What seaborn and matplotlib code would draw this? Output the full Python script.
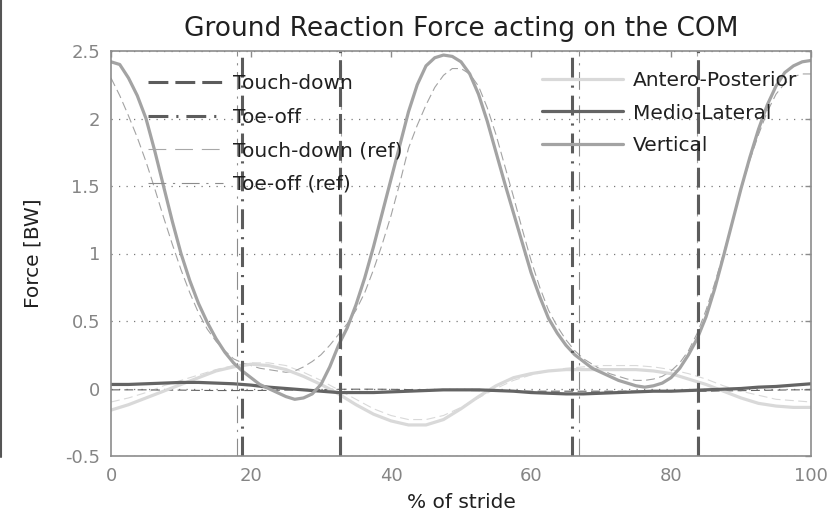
import numpy as np
import pandas as pd
import matplotlib
matplotlib.use("Agg")
import matplotlib.pyplot as plt
from matplotlib.lines import Line2D
import seaborn as sns

# Donnees (% de la foulee, force en BW)
stride_fine = np.arange(0, 100.01, 1.25)
stride = np.arange(0, 100.01, 2.5)

vertical = [2.42, 2.40, 2.30, 2.17, 2.00, 1.76, 1.50, 1.24, 1.00, 0.80,
            0.63, 0.49, 0.37, 0.27, 0.19, 0.13, 0.08, 0.03, 0.00, -0.03,
            -0.06, -0.08, -0.07, -0.04, 0.03, 0.16, 0.32, 0.45, 0.62, 0.82,
            1.05, 1.30, 1.55, 1.80, 2.05, 2.25, 2.39, 2.45, 2.47, 2.46,
            2.42, 2.33, 2.18, 1.98, 1.75, 1.52, 1.30, 1.08, 0.86, 0.68,
            0.52, 0.41, 0.32, 0.25, 0.20, 0.15, 0.12, 0.09, 0.06, 0.04,
            0.02, 0.01, 0.02, 0.04, 0.08, 0.15, 0.25, 0.37, 0.53, 0.74,
            0.98, 1.23, 1.48, 1.71, 1.92, 2.10, 2.24, 2.34, 2.39, 2.42, 2.43]
vertical_ref = [2.30, 2.17, 2.02, 1.86, 1.68, 1.48, 1.27, 1.07, 0.88, 0.71,
                0.56, 0.44, 0.35, 0.28, 0.22, 0.19, 0.17, 0.15, 0.14, 0.13,
                0.12, 0.13, 0.16, 0.20, 0.25, 0.32, 0.40, 0.48, 0.58, 0.71,
                0.88, 1.07, 1.28, 1.52, 1.78, 1.95, 2.10, 2.23, 2.32, 2.37,
                2.37, 2.33, 2.24, 2.08, 1.88, 1.65, 1.42, 1.18, 0.95, 0.75,
                0.58, 0.46, 0.36, 0.28, 0.22, 0.18, 0.14, 0.11, 0.09, 0.07,
                0.06, 0.06, 0.07, 0.09, 0.13, 0.19, 0.28, 0.41, 0.58, 0.78,
                1.00, 1.23, 1.47, 1.69, 1.88, 2.05, 2.18, 2.26, 2.31, 2.33, 2.33]
antero = [-0.16, -0.12, -0.07, -0.02, 0.03, 0.08, 0.13, 0.16, 0.18, 0.17,
          0.14, 0.09, 0.03, -0.04, -0.12, -0.19, -0.24, -0.27, -0.27, -0.23,
          -0.15, -0.06, 0.02, 0.08, 0.11, 0.13, 0.14, 0.14, 0.14, 0.14,
          0.14, 0.13, 0.11, 0.07, 0.03, -0.02, -0.07, -0.11, -0.13, -0.14, -0.14]
antero_ref = [-0.10, -0.07, -0.03, 0.02, 0.06, 0.10, 0.14, 0.17, 0.19, 0.19,
              0.17, 0.12, 0.06, -0.01, -0.08, -0.15, -0.20, -0.23, -0.23, -0.20,
              -0.14, -0.07, 0.00, 0.06, 0.10, 0.13, 0.15, 0.16, 0.17, 0.17,
              0.17, 0.16, 0.14, 0.11, 0.07, 0.02, -0.02, -0.05, -0.08, -0.09, -0.10]
medio = [0.03, 0.03, 0.035, 0.04, 0.045, 0.045, 0.04, 0.035, 0.025, 0.01,
         0.0, -0.01, -0.02, -0.03, -0.03, -0.03, -0.025, -0.02, -0.015, -0.01,
         -0.01, -0.01, -0.015, -0.02, -0.03, -0.035, -0.04, -0.04, -0.035, -0.03,
         -0.025, -0.02, -0.02, -0.015, -0.01, -0.005, 0.0, 0.01, 0.015, 0.025, 0.035]
medio_ref = [-0.01, -0.01, -0.01, -0.012, -0.012, -0.014, -0.015, -0.015, -0.015, -0.014,
             -0.012, -0.01, -0.008, -0.006, -0.005, -0.005, -0.006, -0.008, -0.01, -0.012,
             -0.014, -0.016, -0.018, -0.02, -0.02, -0.02, -0.02, -0.02, -0.02, -0.02,
             -0.02, -0.02, -0.02, -0.02, -0.02, -0.018, -0.016, -0.014, -0.012, -0.01, -0.01]

touch_down = [32.7, 83.8]
toe_off = [18.7, 65.8]
touch_down_ref = [32.8, 83.7]
toe_off_ref = [18.0, 66.8]

df_v = pd.DataFrame({"stride": stride_fine, "V": vertical, "V_ref": vertical_ref})
df = pd.DataFrame({"stride": stride, "AP": antero, "AP_ref": antero_ref,
                   "ML": medio, "ML_ref": medio_ref})

sns.set_style("white")
plt.rcParams["font.family"] = ["DejaVu Sans"]

fig = plt.figure(figsize=(8.31, 5.26), dpi=100)
ax = fig.add_axes([111 / 831, 1 - 456 / 526, 700 / 831, 405 / 526])

c_ap, c_ml, c_v = "#d9d9d9", "#646464", "#a3a3a3"
ref_ls = (0, (8, 4))

# courbes de reference (fines, en tirets)
sns.lineplot(data=df, x="stride", y="AP_ref", ax=ax, color=c_ap, linewidth=0.8, linestyle=ref_ls)
sns.lineplot(data=df, x="stride", y="ML_ref", ax=ax, color=c_ml, linewidth=0.8, linestyle=ref_ls)
sns.lineplot(data=df_v, x="stride", y="V_ref", ax=ax, color=c_v, linewidth=0.8, linestyle=ref_ls)

# courbes simulees
sns.lineplot(data=df, x="stride", y="AP", ax=ax, color=c_ap, linewidth=2.3, label="Antero-Posterior")
sns.lineplot(data=df, x="stride", y="ML", ax=ax, color=c_ml, linewidth=2.3, label="Medio-Lateral")
sns.lineplot(data=df_v, x="stride", y="V", ax=ax, color=c_v, linewidth=2.3, label="Vertical")
force_handles = ax.get_lines()[-3:]

# evenements de la foulee
ev_col = "#5c5c5c"
td_ls = (0, (6.5, 2.3))
to_ls = (0, (6.5, 2.6, 0.7, 2.6))
tdr_ls = (0, (16, 8))
tor_ls = (0, (16, 6, 2, 6))
for t in touch_down_ref:
    ax.axvline(t, color="#a8a8a8", linewidth=0.8, linestyle=tdr_ls)
for t in toe_off_ref:
    ax.axvline(t, color="#8c8c8c", linewidth=0.8, linestyle=tor_ls)
for t in touch_down:
    ax.axvline(t, color=ev_col, linewidth=2.2, linestyle=td_ls)
for t in toe_off:
    ax.axvline(t, color=ev_col, linewidth=2.2, linestyle=to_ls)

event_handles = [
    Line2D([], [], color=ev_col, linewidth=2.2, linestyle=td_ls, label="Touch-down"),
    Line2D([], [], color=ev_col, linewidth=2.2, linestyle=to_ls, label="Toe-off"),
    Line2D([], [], color="#a8a8a8", linewidth=0.8, linestyle=tdr_ls, label="Touch-down (ref)"),
    Line2D([], [], color="#8c8c8c", linewidth=0.8, linestyle=tor_ls, label="Toe-off (ref)"),
]

leg1 = ax.legend(handles=event_handles, loc="upper left", bbox_to_anchor=(0.053, 0.943),
                 frameon=False, fontsize=14.5, handlelength=3.7, handletextpad=0.5,
                 labelspacing=0.72, borderpad=0, borderaxespad=0)
for txt in leg1.get_texts():
    txt.set_color("#202020")
ax.add_artist(leg1)
leg2 = ax.legend(handles=force_handles, loc="upper left", bbox_to_anchor=(0.616, 0.95),
                 frameon=False, fontsize=14.5, handlelength=4.0, handletextpad=0.5,
                 labelspacing=0.66, borderpad=0, borderaxespad=0)
for txt in leg2.get_texts():
    txt.set_color("#202020")

ax.set_xlim(0, 100)
ax.set_ylim(-0.5, 2.5)
ax.set_xticks(np.arange(0, 101, 20))
ax.set_yticks(np.arange(-0.5, 2.51, 0.5))
ax.set_yticklabels(["-0.5", "0", "0.5", "1", "1.5", "2", "2.5"])
ax.yaxis.grid(True, color="#7a7a7a", linestyle=(0, (1, 5)), linewidth=0.9)
ax.xaxis.grid(False)
ax.tick_params(direction="in", top=True, right=True, length=4, width=1,
               color="#8c8c8c", labelcolor="#858585", labelsize=13)
ax.tick_params(axis="y", pad=8)
ax.tick_params(axis="x", pad=8)
for sp in ax.spines.values():
    sp.set_color("#8c8c8c")
    sp.set_linewidth(1.2)

ax.set_xlabel("% of stride", fontsize=14.5, color="#202020", labelpad=6)
ax.set_ylabel("Force [BW]", fontsize=14.5, color="#202020", labelpad=16)
ax.set_title("Ground Reaction Force acting on the COM", fontsize=19, color="#202020", pad=11)

fig.add_artist(Line2D([0.0015, 0.0015], [1 - 457 / 526, 1], color="#555555", linewidth=1.5))

fig.savefig("out.png", dpi=100)
